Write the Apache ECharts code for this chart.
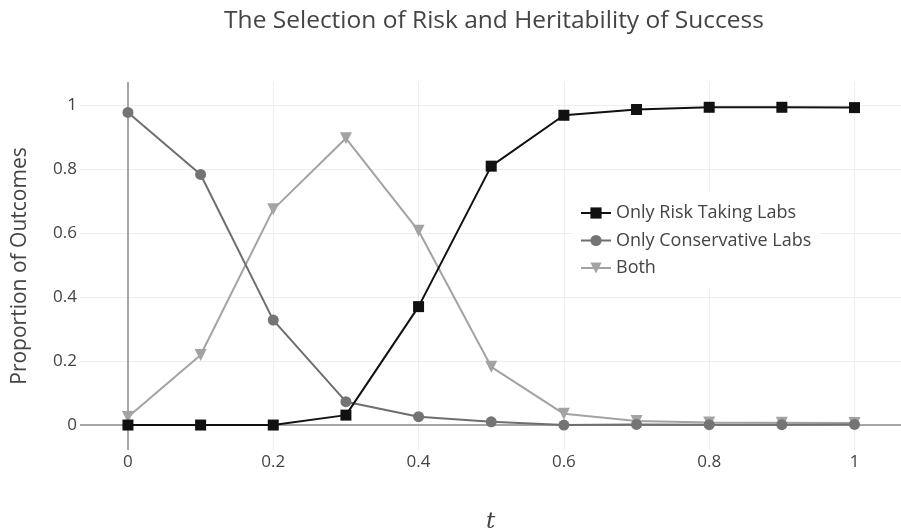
<!DOCTYPE html>
<html>
<head>
<meta charset="utf-8">
<script src="https://cdn.jsdelivr.net/npm/echarts@6/dist/echarts.min.js"></script>
<style>
html,body{margin:0;padding:0;background:#fff;}
#chart{width:901px;height:529px;}
</style>
</head>
<body>
<div id="chart"></div>
<script>
const tValues = [0, 0.1, 0.2, 0.3, 0.4, 0.5, 0.6, 0.7, 0.8, 0.9, 1.0];
const riskTaking = [0, 0, 0, 0.031, 0.37, 0.809, 0.968, 0.986, 0.993, 0.993, 0.992];
const conservative = [0.977, 0.783, 0.328, 0.073, 0.026, 0.010, 0.0, 0.002, 0.001, 0.001, 0.002];
const both = [0.025, 0.219, 0.674, 0.896, 0.607, 0.182, 0.035, 0.013, 0.008, 0.007, 0.006];
const xTicks = [0, 0.2, 0.4, 0.6, 0.8, 1];
const yTicks = [0, 0.2, 0.4, 0.6, 0.8, 1];
const seriesNames = ['Only Risk Taking Labs', 'Only Conservative Labs', 'Both'];

function pairs(ys) { return tValues.map((t, i) => [t, ys[i]]); }

const FONT = "'Open Sans', 'Noto Sans', sans-serif";
const chart = echarts.init(document.getElementById('chart'), null, {renderer: 'canvas'});
chart.setOption({
  backgroundColor: '#fff',
  animation: false,
  title: {
    text: 'The Selection of Risk and Heritability of Success',
    left: 489, top: 4, textAlign: 'center',
    textStyle: {fontFamily: FONT, fontSize: 24.5, fontWeight: 'normal', color: '#444'}
  },
  legend: {
    orient: 'vertical', left: 573, top: 192,
    padding: [12, 8, 10, 7],
    backgroundColor: '#fff',
    itemWidth: 30, itemHeight: 14, itemGap: 9.5,
    textStyle: {fontFamily: FONT, fontSize: 18, color: '#444'},
    data: seriesNames
  },
  grid: {left: 80, right: 0, top: 82, bottom: 79, containLabel: false, outerBoundsMode: 'none'},
  xAxis: {
    type: 'value', min: -0.066, max: 1.064,
    name: 't', nameLocation: 'middle', nameGap: 61,
    nameTextStyle: {fontFamily: "'DejaVu Serif', 'Liberation Serif', serif", fontStyle: 'italic', fontSize: 23, color: '#444'},
    axisLine: {show: false, onZero: false},
    axisTick: {show: false, customValues: xTicks},
    axisLabel: {customValues: xTicks, margin: 4, fontFamily: FONT, fontSize: 17, color: '#444'},
    splitLine: {show: true, lineStyle: {color: '#eeeeee', width: 1}}
  },
  yAxis: {
    type: 'value', min: -0.078, max: 1.072,
    name: 'Proportion of Outcomes', nameLocation: 'middle', nameGap: 49, nameRotate: 90,
    nameTextStyle: {fontFamily: FONT, fontSize: 21, color: '#444'},
    axisLine: {show: false, onZero: false},
    axisTick: {show: false, customValues: yTicks},
    axisLabel: {customValues: yTicks, margin: 3, fontFamily: FONT, fontSize: 17, color: '#444'},
    splitLine: {show: true, lineStyle: {color: '#eeeeee', width: 1}}
  },
  series: [
    {
      name: seriesNames[0], type: 'line', data: pairs(riskTaking),
      symbol: 'rect', symbolSize: 11, z: 5,
      lineStyle: {color: '#111', width: 2}, itemStyle: {color: '#111'},
      markLine: {
        silent: true, symbol: 'none', z: 1, label: {show: false},
        lineStyle: {color: '#a6a6a6', width: 2, type: 'solid'},
        data: [{xAxis: 0}, {yAxis: 0}]
      }
    },
    {
      name: seriesNames[1], type: 'line', data: pairs(conservative),
      symbol: 'circle', symbolSize: 11, z: 4,
      lineStyle: {color: '#6e6e6e', width: 2}, itemStyle: {color: '#747474'}
    },
    {
      name: seriesNames[2], type: 'line', data: pairs(both),
      symbol: 'triangle', symbolRotate: 180, symbolSize: 12, z: 3,
      lineStyle: {color: '#a3a3a3', width: 2}, itemStyle: {color: '#a3a3a3'}
    }
  ]
});
</script>
</body>
</html>
